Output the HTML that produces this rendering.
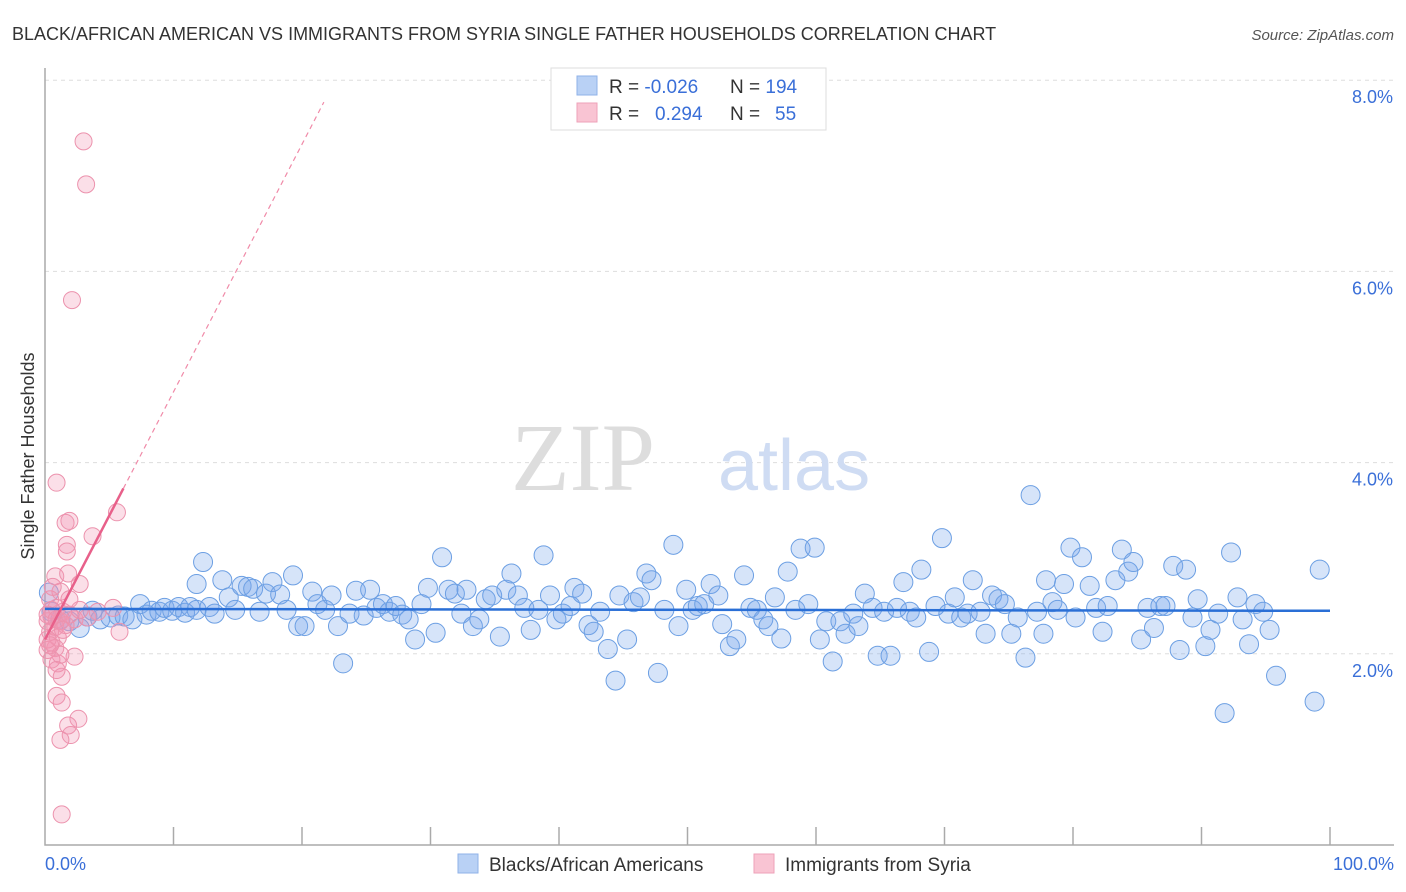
<!DOCTYPE html>
<html><head><meta charset="utf-8"><style>
body{margin:0;background:#fff;font-family:"Liberation Sans",sans-serif}
</style></head><body>
<svg width="1406" height="892" style="display:block">
<text x="12" y="40" font-size="18" fill="#333">BLACK/AFRICAN AMERICAN VS IMMIGRANTS FROM SYRIA SINGLE FATHER HOUSEHOLDS CORRELATION CHART</text>
<text x="1394" y="40" font-size="15" fill="#555" font-style="italic" text-anchor="end">Source: ZipAtlas.com</text>
<g id="grid"></g>
<g id="axes"></g>
<text x="655" y="490" font-size="96" fill="#ddd" font-family="Liberation Serif,serif" text-anchor="end">ZIP</text>
<text x="718" y="490" font-size="72" fill="#cfdcf3">atlas</text>
<g id="blue"></g>
<g id="pink"></g>
<g id="trend"></g>
<text transform="translate(34,456) rotate(-90)" font-size="18" fill="#333" text-anchor="middle">Single Father Households</text>
<text x="45" y="870" font-size="18" fill="#3a6fd8">0.0%</text>
<text x="1394" y="870" font-size="18" fill="#3a6fd8" text-anchor="end">100.0%</text>
<g>
<rect x="551" y="68" width="275" height="62" fill="#fff" stroke="#ddd"/>
<rect x="577" y="76" width="20" height="19" fill="#b9d1f5" stroke="#8fb2e8"/>
<rect x="577" y="103" width="20" height="19" fill="#f9c4d3" stroke="#eea2b8"/>
<text x="609" y="93" font-size="19" fill="#333">R = <tspan fill="#3a6fd8">-0.026</tspan></text>
<text x="730" y="93" font-size="19" fill="#333">N = <tspan fill="#3a6fd8">194</tspan></text>
<text x="609" y="120" font-size="19" fill="#333">R = <tspan fill="#3a6fd8" x="655">0.294</tspan></text>
<text x="730" y="120" font-size="19" fill="#333">N = <tspan fill="#3a6fd8" x="775">55</tspan></text>
</g>
<g>
<rect x="458" y="854" width="20" height="19" fill="#b9d1f5" stroke="#8fb2e8"/>
<text x="489" y="871" font-size="19" fill="#333">Blacks/African Americans</text>
<rect x="754" y="854" width="20" height="19" fill="#f9c4d3" stroke="#eea2b8"/>
<text x="785" y="871" font-size="19" fill="#333">Immigrants from Syria</text>
</g>
</svg>
<script>
const yTicks=[2,4,6,8];
const yTickLabels=["2.0%","4.0%","6.0%","8.0%"];
const xTicks=[10,20,30,40,50,60,70,80,90,100];
const blueX=[0.3,0.5,1.2,1.9,2.7,3.3,3.7,4.3,5.1,5.7,6.2,6.8,7.4,7.9,8.3,8.9,9.3,9.9,10.4,10.9,11.3,11.8,12.3,11.8,12.8,13.2,13.8,14.3,14.8,15.3,15.8,16.2,16.7,17.2,17.7,18.3,18.8,19.3,19.7,20.2,20.8,21.2,21.8,22.3,22.8,23.2,23.7,24.2,24.8,25.3,25.8,26.3,26.8,27.3,27.8,28.3,28.8,29.3,29.8,30.4,30.9,31.4,31.9,32.4,32.8,33.3,33.8,34.3,34.8,35.4,35.9,36.3,36.8,37.3,37.8,38.4,38.8,39.3,39.8,40.3,40.9,41.2,41.8,42.3,42.7,43.2,43.8,44.4,44.7,45.3,45.8,46.3,46.8,47.2,47.7,48.2,48.9,49.3,49.9,50.4,50.8,51.3,51.8,52.4,52.7,53.3,53.8,54.4,54.9,55.4,55.9,56.3,56.8,57.3,57.8,58.4,58.8,59.4,59.9,60.3,60.8,61.3,61.9,62.3,62.9,63.3,63.8,64.4,64.8,65.3,65.8,66.3,66.8,67.3,67.8,68.2,68.8,69.3,69.8,70.3,70.8,71.3,71.8,72.2,72.8,73.2,73.7,74.2,74.7,75.2,75.7,76.3,76.7,77.2,77.7,77.9,78.4,78.8,79.3,79.8,80.2,80.7,81.3,81.8,82.3,82.7,83.3,83.8,84.3,84.7,85.3,85.8,86.3,86.8,87.2,87.8,88.3,88.8,89.3,89.7,90.3,90.7,91.3,91.8,92.3,92.8,93.2,93.7,94.2,94.8,95.3,95.8,98.8,99.2];
const blueY=[2.64,2.44,2.36,2.34,2.27,2.39,2.45,2.36,2.38,2.40,2.39,2.36,2.52,2.41,2.45,2.44,2.48,2.45,2.49,2.43,2.49,2.73,2.96,2.46,2.49,2.42,2.77,2.59,2.46,2.71,2.70,2.68,2.44,2.63,2.75,2.62,2.46,2.82,2.29,2.29,2.65,2.52,2.46,2.61,2.29,1.90,2.42,2.66,2.40,2.67,2.48,2.52,2.44,2.50,2.41,2.36,2.15,2.52,2.69,2.22,3.01,2.67,2.63,2.42,2.67,2.29,2.36,2.57,2.61,2.18,2.67,2.84,2.61,2.48,2.25,2.46,3.03,2.61,2.36,2.42,2.50,2.69,2.63,2.30,2.23,2.44,2.05,1.72,2.61,2.15,2.54,2.59,2.84,2.77,1.80,2.46,3.14,2.29,2.67,2.46,2.50,2.52,2.73,2.61,2.31,2.08,2.15,2.82,2.48,2.46,2.36,2.29,2.59,2.16,2.86,2.46,3.10,2.52,3.11,2.15,2.34,1.92,2.34,2.21,2.42,2.29,2.63,2.48,1.98,2.44,1.98,2.48,2.75,2.44,2.38,2.88,2.02,2.50,3.21,2.42,2.59,2.38,2.42,2.77,2.44,2.21,2.61,2.57,2.52,2.21,2.38,1.96,3.66,2.44,2.21,2.77,2.54,2.46,2.73,3.11,2.38,3.01,2.71,2.48,2.23,2.50,2.77,3.09,2.86,2.96,2.15,2.48,2.27,2.50,2.50,2.92,2.04,2.88,2.38,2.57,2.08,2.25,2.42,1.38,3.06,2.59,2.36,2.10,2.52,2.44,2.25,1.77,1.50,2.88];
const pinkX=[3.0,3.2,2.1,0.9,1.6,1.9,1.7,1.7,5.6,3.7,0.8,1.8,2.7,1.2,0.4,0.9,1.4,0.5,0.2,0.8,0.4,1.0,0.5,0.8,0.2,1.2,2.3,5.3,5.8,2.3,1.0,1.3,0.9,1.3,2.6,1.8,2.0,1.2,1.3,0.5,0.2,0.9,1.6,1.9,1.4,0.2,1.2,0.5,3.3,4.1,2.7,0.6,1.9,0.4,0.9];
const pinkY=[7.36,6.91,5.70,3.79,3.37,3.39,3.14,3.07,3.48,3.23,2.81,2.84,2.73,2.65,2.57,2.48,2.44,2.39,2.34,2.28,2.23,2.17,2.12,2.06,2.04,2.34,2.36,2.48,2.23,1.97,1.90,1.76,1.56,1.49,1.32,1.25,1.15,1.10,0.32,2.46,2.41,2.36,2.30,2.41,2.25,2.15,1.99,1.94,2.38,2.44,2.46,2.70,2.57,2.09,1.83];
const blueTrend=[2.47,2.45];
const pinkTrend=[2.15,0.259];
const NS="http://www.w3.org/2000/svg";
const X0=45,X1=1330,Y0=845,PPU=95.6;
const sx=v=>X0+(X1-X0)*v/100;
const sy=v=>Y0-v*PPU;
function mk(t,a,p){const e=document.createElementNS(NS,t);for(const k in a)e.setAttribute(k,a[k]);p.appendChild(e);return e;}
const grid=document.getElementById('grid'),axes=document.getElementById('axes');
yTicks.forEach((v,i)=>{
 const l=mk('line',{x1:45,x2:1394,y1:sy(v),y2:sy(v),stroke:'#ddd','stroke-dasharray':'4,4'},grid);
 
 
 const t=mk('text',{x:1393,y:sy(v)+23,'font-size':18,fill:'#3a6fd8','text-anchor':'end'},grid);
 t.textContent=yTickLabels[i];
 
 
});
const ax=mk('path',{d:`M45 68 V${Y0} H1394`,stroke:'#aaa',fill:'none','stroke-width':1.5},axes);


xTicks.forEach(v=>{
 const l=mk('line',{x1:sx(v),x2:sx(v),y1:827,y2:845,stroke:'#aaa','stroke-width':1.5},axes);
 
 
});
const bg=document.getElementById('blue');
blueX.forEach((v,i)=>{
 const c=mk('circle',{cx:sx(v),cy:sy(blueY[i]),r:9.5,fill:'rgba(120,165,235,0.3)',stroke:'#6c9fe3','stroke-width':1},bg);
 
 
});
const pg=document.getElementById('pink');
pinkX.forEach((v,i)=>{
 const c=mk('circle',{cx:sx(v),cy:sy(pinkY[i]),r:8.5,fill:'rgba(243,150,178,0.3)',stroke:'#ec92ad','stroke-width':1},pg);
 
 
});
const tg=document.getElementById('trend');
const bl=mk('line',{x1:sx(0),x2:sx(100),y1:sy(blueTrend[0]),y2:sy(blueTrend[1]),stroke:'#2a6fd6','stroke-width':2.5},tg);


const pf=x=>pinkTrend[0]+pinkTrend[1]*x;
const ps=mk('line',{x1:sx(0),x2:sx(6.1),y1:sy(pf(0)),y2:sy(pf(6.1)),stroke:'#e8608a','stroke-width':2.5},tg);


const pd=mk('line',{x1:sx(6.1),x2:sx(21.7),y1:sy(pf(6.1)),y2:sy(pf(21.7)),stroke:'#f08aa8','stroke-width':1.2,'stroke-dasharray':'5,4'},tg);


</script>
</body></html>
